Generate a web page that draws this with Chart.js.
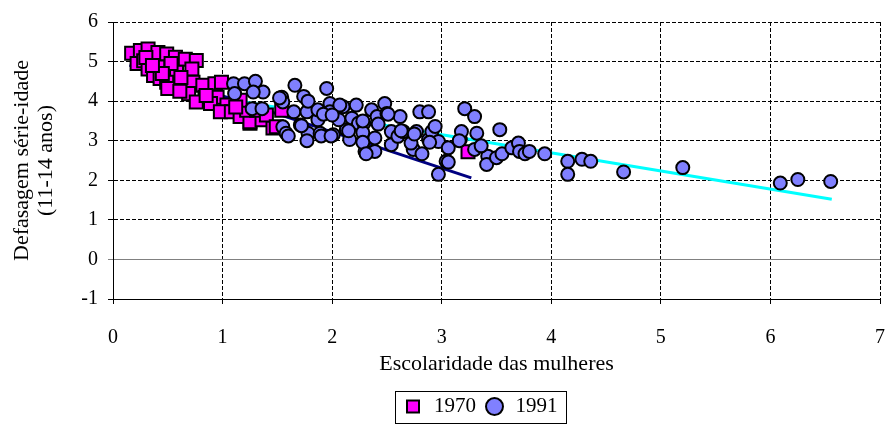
<!DOCTYPE html>
<html>
<head>
<meta charset="utf-8">
<script src="https://cdn.jsdelivr.net/npm/chart.js@4.4.1/dist/chart.umd.min.js"></script>
<style>
  html, body { margin: 0; padding: 0; background: #fff; }
</style>
</head>
<body>
<canvas id="myChart" width="886" height="427"></canvas>
<script>
// 1970: escolaridade das mulheres (x) / defasagem serie-idade (y)
const esc1970 = [0.17, 0.25, 0.32, 0.41, 0.49, 0.57, 0.66, 0.76, 0.22, 0.28, 0.41, 0.58, 0.72, 0.32, 0.37, 0.43,
  0.49, 0.50, 0.64, 0.73, 0.82, 0.93, 0.99, 0.69, 0.84, 0.95, 0.76, 0.89, 1.04, 0.98, 1.08, 1.25,
  1.16, 1.25, 1.36, 1.54, 1.22, 1.46, 1.31, 1.16, 0.61, 0.85, 0.53, 0.62, 0.45, 1.40, 1.12, 0.30,
  0.36, 1.49, 3.24];
const def1970 = [5.21, 5.28, 5.32, 5.23, 5.19, 5.11, 5.06, 5.03, 4.95, 5.02, 4.86, 4.73, 4.81, 4.81, 4.65, 4.57,
  4.48, 4.32, 4.40, 4.48, 4.40, 4.44, 4.48, 4.19, 4.10, 4.10, 3.98, 3.94, 3.90, 3.73, 3.73, 3.44,
  3.61, 3.48, 3.53, 3.77, 3.77, 3.32, 3.77, 4.02, 4.25, 4.14, 4.95, 4.60, 4.70, 3.65, 3.85, 5.10,
  4.90, 3.35, 2.72];

// 1991
const esc1991 = [1.10, 1.20, 1.30, 1.37, 1.11, 1.28, 1.27, 1.36, 1.54, 1.55, 1.66, 1.74, 1.65, 1.77, 1.55, 1.58,
  1.71, 1.78, 1.77, 1.87, 1.95, 1.98, 1.98, 1.89, 2.01, 2.10, 2.18, 2.13, 2.16, 2.06, 1.87, 2.07,
  2.22, 2.24, 2.29, 2.36, 2.41, 2.30, 2.39, 2.39, 2.48, 2.50, 2.54, 2.54, 2.60, 2.62, 2.65, 2.74,
  2.72, 2.77, 2.80, 2.88, 2.82, 2.88, 2.91, 2.94, 2.97, 3.06, 3.04, 2.97, 3.17, 3.18, 3.21, 3.30,
  3.32, 3.30, 3.42, 3.41, 3.53, 3.36, 3.50, 3.55, 3.64, 3.70, 3.71, 3.76, 3.80, 3.94, 4.15, 4.15,
  4.28, 4.36, 4.66, 5.20, 6.09, 6.25, 6.55,
  1.52, 1.60, 1.92, 2.00, 1.78, 2.15, 2.28, 2.28, 2.42, 2.28, 2.31, 2.63, 2.75, 2.89, 3.06, 3.16,
  1.72, 1.90, 1.99, 2.51];
const def1991 = [4.44, 4.44, 4.50, 4.23, 4.19, 4.23, 3.81, 3.81, 4.10, 3.98, 4.40, 4.12, 3.73, 3.73, 3.35, 3.19,
  3.40, 3.19, 3.00, 3.53, 4.32, 3.94, 3.73, 3.19, 3.15, 3.86, 3.57, 3.28, 3.03, 3.53, 3.78, 3.90,
  3.90, 3.44, 3.44, 3.78, 3.61, 2.73, 2.73, 3.07, 3.94, 3.69, 3.23, 2.90, 3.11, 3.61, 3.23, 2.78,
  2.94, 3.23, 3.73, 3.73, 2.67, 3.03, 3.23, 3.36, 2.98, 2.82, 2.48, 2.15, 3.03, 3.23, 3.81, 3.61,
  3.19, 2.78, 2.61, 2.40, 3.28, 2.87, 2.57, 2.67, 2.82, 2.94, 2.73, 2.67, 2.73, 2.67, 2.48, 2.15,
  2.53, 2.48, 2.21, 2.32, 1.93, 2.02, 1.97,
  4.08, 3.12, 3.67, 3.65, 4.00, 3.25, 3.21, 3.50, 3.42, 2.96, 2.67, 3.25, 3.17, 2.96, 2.46, 3.00,
  3.38, 3.12, 3.12, 3.67];

// trend lines (end points)
const trendX1970 = [0.15, 3.27];
const trendY1970 = [4.91, 2.06];
const trendX1991 = [1.10, 6.56];
const trendY1991 = [4.02, 1.52];

const xRange = [0, 7];
const yRange = [-1, 6];

function pairs(xs, ys) {
  return xs.map((x, i) => ({ x: x, y: ys[i] }));
}

const serif = "'Liberation Serif', 'Times New Roman', serif";
const legendShift = 40;

// box around the legend, like the spreadsheet one
const legendBox = {
  id: "legendBox",
  afterLayout(chart) {
    chart.legend.left += legendShift;
    chart.legend.right += legendShift;
  },
  afterDraw(chart) {
    const boxes = chart.legend.legendHitBoxes;
    if (!boxes || !boxes.length) return;
    const ctx = chart.ctx;
    const left = Math.min(...boxes.map(b => b.left)) - 8;
    const right = Math.max(...boxes.map(b => b.left + b.width)) + 8;
    const top = Math.min(...boxes.map(b => b.top)) - 5;
    const bottom = Math.max(...boxes.map(b => b.top + b.height)) + 6;
    ctx.save();
    ctx.strokeStyle = "#000";
    ctx.lineWidth = 1;
    ctx.strokeRect(Math.round(left) + 0.5, Math.round(top) + 0.5, Math.round(right - left), Math.round(bottom - top));
    ctx.restore();
  }
};

const data = {
  datasets: [
    {
      label: "1991",
      data: pairs(esc1991, def1991),
      pointStyle: "circle",
      pointRadius: 6.5,
      pointBackgroundColor: "#8080FF",
      pointBorderColor: "#000",
      pointBorderWidth: 2,
      backgroundColor: "#8080FF",
      borderColor: "#000",
      borderWidth: 2,
      showLine: false
    },
    {
      label: "1970",
      data: pairs(esc1970, def1970),
      pointStyle: "rect",
      pointRadius: 9.2,
      pointBackgroundColor: "#FF00FF",
      pointBorderColor: "#000",
      pointBorderWidth: 2,
      backgroundColor: "#FF00FF",
      borderColor: "#000",
      borderWidth: 2,
      showLine: false
    },
    {
      label: "trend1991",
      data: pairs(trendX1991, trendY1991),
      showLine: true,
      borderColor: "#00FFFF",
      borderWidth: 3,
      pointRadius: 0
    },
    {
      label: "trend1970",
      data: pairs(trendX1970, trendY1970),
      showLine: true,
      borderColor: "#000080",
      borderWidth: 3,
      pointRadius: 0
    }
  ]
};

const config = {
  type: "scatter",
  data: data,
  plugins: [legendBox],
  options: {
    responsive: false,
    animation: false,
    devicePixelRatio: 1,
    layout: { autoPadding: false, padding: { top: 20, right: 6, left: 0, bottom: 0 } },
    plugins: {
      tooltip: { enabled: false },
      legend: {
        position: "bottom",
        labels: {
          usePointStyle: true,
          boxHeight: 12,
          padding: 8,
          color: "#000",
          font: { family: serif, size: 21 },
          filter: item => item.text === "1970" || item.text === "1991",
          sort: (a, b) => a.text.localeCompare(b.text)
        }
      }
    },
    scales: {
      x: {
        type: "linear",
        min: xRange[0],
        max: xRange[1],
        afterFit: scale => {
          scale.height = 89;
          scale.paddingLeft = 0;
          scale.paddingRight = 0;
        },
        ticks: {
          stepSize: 1,
          color: "#000",
          padding: 22,
          maxRotation: 0,
          font: { family: serif, size: 20 }
        },
        grid: { color: "#000", lineWidth: 1, tickLength: 5 },
        border: { display: true, color: "#000", width: 1, dash: [4, 2] },
        title: {
          display: true,
          text: "Escolaridade das mulheres",
          color: "#000",
          font: { family: serif, size: 22, lineHeight: 1.15 },
          padding: { top: 0, bottom: 11 }
        }
      },
      y: {
        min: yRange[0],
        max: yRange[1],
        afterFit: scale => { scale.width = 113; },
        ticks: {
          stepSize: 1,
          color: "#000",
          padding: 10,
          font: { family: serif, size: 20 }
        },
        grid: {
          color: ctx => (ctx.tick && ctx.tick.value === 0 ? "#808080" : "#000"),
          lineWidth: 1,
          tickLength: 5
        },
        border: {
          display: true,
          color: "#000",
          width: 1,
          dash: ctx => (ctx.tick && ctx.tick.value === 0 ? [] : [4, 2])
        },
        title: {
          display: true,
          text: ["Defasagem série-idade", "(11-14 anos)"],
          color: "#000",
          font: { family: serif, size: 22, lineHeight: 1.1 },
          padding: { top: 10, bottom: 0 }
        }
      }
    }
  }
};

const myChart = new Chart(document.getElementById("myChart"), config);
</script>
</body>
</html>
